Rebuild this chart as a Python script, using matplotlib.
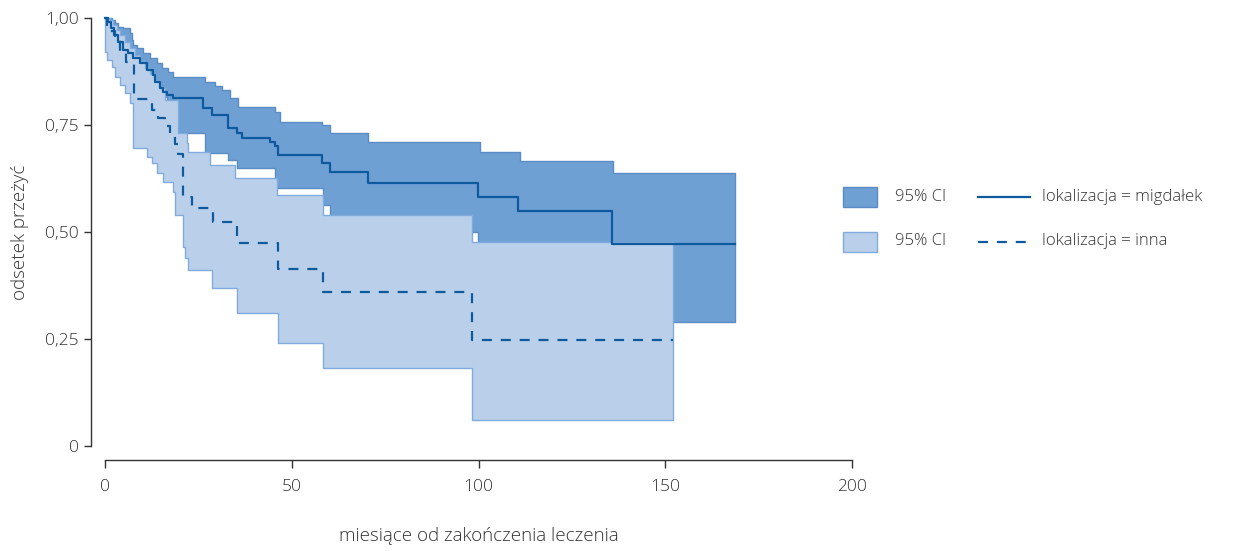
import numpy as np
import matplotlib.pyplot as plt
from matplotlib.patches import Rectangle
from matplotlib.lines import Line2D

plt.rcParams['font.family'] = ['Open Sans', 'DejaVu Sans']

# Kaplan-Meier: lokalizacja = migdałek (miesiące, odsetek przeżyć)
mig_t = [0, 0.8, 1.6, 2.4, 3.5, 4.8, 6.2, 7.5, 9.4, 11.2, 12.9, 13.4, 14.7, 15.5,
         16.6, 18.2, 26.2, 28.7, 32.9, 35.3, 36.7, 44.2, 45.5, 46.3, 58.1, 60.2,
         70.4, 99.9, 110.6, 135.7]
mig_s = [1.0, 0.991, 0.977, 0.960, 0.944, 0.925, 0.918, 0.907, 0.895, 0.879, 0.867,
         0.850, 0.836, 0.827, 0.820, 0.813, 0.790, 0.773, 0.743, 0.731, 0.720, 0.710,
         0.701, 0.680, 0.661, 0.640, 0.614, 0.582, 0.549, 0.472]
mig_end = 168.7

# 95% CI dla migdałka
mig_hi_t = [0, 1.9, 2.7, 3.5, 4.8, 6.7, 7.2, 7.5, 8.6, 10.2, 12.1, 13.9, 15.3, 16.9,
            18.2, 26.8, 29.5, 31.3, 33.5, 35.6, 45.5, 46.9, 58.1, 60.2, 70.4, 100.4,
            111.1, 136.0]
mig_hi = [1.0, 0.995, 0.988, 0.979, 0.977, 0.965, 0.949, 0.937, 0.930, 0.918, 0.907,
          0.895, 0.883, 0.874, 0.862, 0.850, 0.841, 0.832, 0.813, 0.792, 0.780, 0.757,
          0.750, 0.731, 0.710, 0.687, 0.666, 0.638]
mig_lo_t = [0, 0.8, 1.6, 2.4, 3.5, 4.8, 6.2, 7.5, 9.4, 11.2, 12.9, 13.4, 14.7, 15.5,
            16.6, 18.2, 26.8, 32.9, 35.3, 45.5, 58.4, 60.2, 98.3, 99.9, 135.7]
mig_lo = [1.0, 0.977, 0.963, 0.944, 0.925, 0.907, 0.902, 0.890, 0.883, 0.867, 0.855,
          0.841, 0.825, 0.815, 0.808, 0.731, 0.685, 0.668, 0.650, 0.603, 0.563, 0.523,
          0.500, 0.451, 0.290]

# Kaplan-Meier: lokalizacja = inna
inna_t = [0, 0.5, 2.7, 4.0, 5.6, 7.8, 11.5, 12.6, 14.2, 16.1, 17.4, 18.7, 19.5, 20.9,
          23.3, 28.9, 35.3, 46.3, 58.4, 98.3]
inna_s = [1.0, 0.970, 0.949, 0.921, 0.897, 0.811, 0.801, 0.785, 0.766, 0.748, 0.729,
          0.706, 0.682, 0.582, 0.556, 0.523, 0.474, 0.414, 0.360, 0.248]
inna_end = 152.1

# 95% CI dla innej lokalizacji
inna_hi_t = [0, 1.3, 2.1, 3.2, 4.0, 5.4, 6.7, 8.0, 9.4, 10.7, 12.1, 13.4, 14.7, 16.1,
             19.5, 22.0, 22.2, 28.1, 34.8, 46.1, 58.4, 98.3]
inna_hi = [1.0, 0.995, 0.984, 0.972, 0.960, 0.944, 0.930, 0.914, 0.900, 0.883, 0.869,
           0.855, 0.836, 0.808, 0.731, 0.708, 0.687, 0.657, 0.626, 0.586, 0.540, 0.477]
inna_lo_t = [0, 0.5, 1.9, 2.7, 4.0, 5.4, 6.7, 7.5, 11.2, 12.6, 13.9, 15.5, 18.2, 18.7,
             20.9, 21.4, 22.2, 28.7, 35.3, 46.3, 58.4, 98.3]
inna_lo = [0.921, 0.902, 0.886, 0.862, 0.843, 0.825, 0.801, 0.696, 0.675, 0.661, 0.638,
           0.617, 0.593, 0.540, 0.465, 0.439, 0.411, 0.369, 0.311, 0.241, 0.182, 0.061]

x_ticks = [0, 50, 100, 150, 200]
y_ticks = [0, 0.25, 0.5, 0.75, 1.0]
y_tick_labels = ['0', '0,25', '0,50', '0,75', '1,00']

line_col = '#0d5a9f'
dark_fill, dark_edge = '#6fa0d4', '#5b8cc6'
light_fill, light_edge = '#bad0ea', '#80abdc'
text_col = '#333333'


def step_eval(times, values, grid):
    idx = np.searchsorted(times, grid, side='right') - 1
    return np.asarray(values)[idx]


def band(ax, t_hi, hi, t_lo, lo, end, fc, ec):
    grid = np.union1d(t_hi, t_lo)
    grid = np.append(grid, end)
    up = step_eval(t_hi, hi, grid)
    dn = step_eval(t_lo, lo, grid)
    ax.fill_between(grid, dn, up, step='post', facecolor=fc, edgecolor=ec,
                    linewidth=1.0, clip_on=False)


def curve(ax, times, values, end, **kw):
    t = list(times) + [end]
    s = list(values) + [values[-1]]
    ax.step(t, s, where='post', color=line_col, linewidth=1.6, clip_on=False, **kw)


fig = plt.figure(figsize=(12.42, 5.51), dpi=100)
ax = fig.add_axes([105 / 1242, 1 - 446 / 551, 747 / 1242, 428 / 551])

band(ax, mig_hi_t, mig_hi, mig_lo_t, mig_lo, mig_end, dark_fill, dark_edge)
band(ax, inna_hi_t, inna_hi, inna_lo_t, inna_lo, inna_end, light_fill, light_edge)
curve(ax, mig_t, mig_s, mig_end)
curve(ax, inna_t, inna_s, inna_end, linestyle=(0, (4.5, 4)))

ax.set_xlim(0, 200)
ax.set_ylim(0, 1)
for side in ['top', 'right']:
    ax.spines[side].set_visible(False)
ax.spines['left'].set_position(('outward', 10))
ax.spines['bottom'].set_position(('outward', 10))
ax.spines['left'].set_bounds(0, 1)
ax.spines['bottom'].set_bounds(0, 200)
for side in ['left', 'bottom']:
    ax.spines[side].set_color(text_col)
    ax.spines[side].set_linewidth(1.0)

ax.set_xticks(x_ticks)
ax.set_xticklabels([str(v) for v in x_ticks])
ax.set_yticks(y_ticks)
ax.set_yticklabels(y_tick_labels)
ax.tick_params(axis='y', length=5, width=1, color=text_col, pad=4,
               labelsize=12.5, labelcolor=text_col)
ax.tick_params(axis='x', length=6, width=1, color=text_col, pad=8,
               labelsize=12.5, labelcolor=text_col)
for lab in ax.get_xticklabels() + ax.get_yticklabels():
    lab.set_fontweight('light')

ax.set_ylabel('odsetek przeżyć', fontsize=13.5, color=text_col, fontweight='light')
ax.set_xlabel('miesiące od zakończenia leczenia', fontsize=13.5, color=text_col,
              fontweight='light')
ax.yaxis.set_label_coords(-0.102, 0.5)
ax.xaxis.set_label_coords(0.5, -0.19)


# legenda po prawej stronie
def fx(x):
    return x / 1242


def fy(y):
    return 1 - y / 551


fig.add_artist(Rectangle((fx(843), fy(207)), fx(34), 20 / 551, transform=fig.transFigure,
                         facecolor=dark_fill, edgecolor=dark_edge, linewidth=1))
fig.add_artist(Rectangle((fx(843), fy(252)), fx(34), 20 / 551, transform=fig.transFigure,
                         facecolor=light_fill, edgecolor=light_edge, linewidth=1))
fig.add_artist(Line2D([fx(978), fx(1030)], [fy(197), fy(197)], transform=fig.transFigure,
                      color=line_col, linewidth=1.6))
fig.add_artist(Line2D([fx(978), fx(1030)], [fy(242), fy(242)], transform=fig.transFigure,
                      color=line_col, linewidth=1.6, linestyle=(0, (4.5, 4))))
for yy in [197, 241]:
    fig.text(fx(895), fy(yy), '95% CI', fontsize=12, color=text_col,
             fontweight='light', va='center')
fig.text(fx(1042), fy(197), 'lokalizacja = migdałek', fontsize=12, color=text_col,
         fontweight='light', va='center')
fig.text(fx(1042), fy(241), 'lokalizacja = inna', fontsize=12, color=text_col,
         fontweight='light', va='center')

fig.savefig('out.png', dpi=100)
